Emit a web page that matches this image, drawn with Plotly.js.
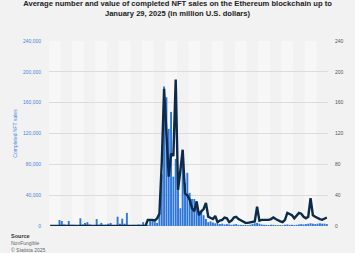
<!DOCTYPE html>
<html>
<head>
<meta charset="utf-8">
<script src="https://cdn.plot.ly/plotly-3.0.1.min.js"></script>
<style>
  html, body { margin: 0; padding: 0; background: #f2f2f2; }
  #chart { width: 355px; height: 253px; }
</style>
</head>
<body>
<div id="chart"></div>
<script>
// Monthly categories (axis labels are hidden at this size)
const firstYear = 2015, firstMonth = 1; // Feb 2015 (0-based month)
const monthNames = ['Jan','Feb','Mar','Apr','May','Jun','Jul','Aug','Sep','Oct','Nov','Dec'];
const months = [];
for (let i = 0; i < 120; i++) {
  const m = (firstMonth + i) % 12;
  const y = firstYear + Math.floor((firstMonth + i) / 12);
  months.push(monthNames[m] + " '" + String(y).slice(2));
}

// Average number of completed NFT sales
const sales = [
  0, 0, 0, 0, 7800, 6500, 2000, 1500, 6500, 1500,
  1500, 1000, 1000, 10000, 2000, 4000, 5000, 2000, 1000, 1000,
  9000, 1500, 4000, 1500, 1500, 3000, 4000, 1000, 1000, 12000,
  3000, 9500, 3000, 17000, 1000, 1000, 1500, 1000, 2000, 1500,
  5000, 1500, 1500, 8000, 7000, 5000, 4000, 17000, 67000, 181000,
  167000, 126000, 148000, 64000, 87000, 69000, 23000, 98000, 56000, 69000,
  43000, 35000, 35000, 30000, 19000, 18000, 14000, 9000, 5000, 6000,
  4500, 3500, 3000, 2500, 3000, 2000, 2500, 2000, 1500, 2000,
  2500, 1500, 1500, 1200, 1500, 1200, 1500, 2500, 3500, 4000,
  3000, 2000, 1500, 1500, 1200, 1500, 1500, 1200, 1000, 1200,
  1000, 1500, 2000, 1500, 1500, 1200, 1500, 2000, 2500, 2000,
  2500, 3000, 3500, 3000, 2500, 3000, 3500, 3000, 3000, 2500
];

// Average value of completed NFT sales (million U.S. dollars)
const valueUSD = [
  0, 0, 0, 0, 0, 0, 0, 0, 0, 0,
  0, 0, 0, 0, 0, 0, 0, 0, 0, 0,
  0, 0, 0, 0, 0, 0, 0, 0, 0, 0,
  0, 0, 0, 0, 0, 0, 0, 0, 0, 0,
  0, 0, 8, 8, 8, 7, 10, 16, 82, 178,
  120, 64, 94, 91, 190, 47, 72, 99, 42, 40,
  34, 23, 19, 32, 14, 19, 22, 30, 12, 10,
  9, 13, 5, 7, 8, 11, 10, 5, 7, 11,
  12, 9, 7, 5, 4, 4, 5, 5, 6, 25,
  7, 8, 8, 8, 8, 9, 11, 9, 7, 6,
  5, 8, 17, 16, 14, 10, 13, 17, 16, 12,
  10, 12, 36, 14, 12, 10, 9, 8, 10, 11
];

const leftTicks = [0, 40000, 80000, 120000, 160000, 200000, 240000];
const rightTicks = [0, 40, 80, 120, 160, 200, 240];

const W = 355, H = 253;
const M = { l: 49, r: 27, t: 41, b: 27 };
const px2x = px => (px - M.l) / (W - M.l - M.r);
const px2y = py => (H - M.b - py) / (H - M.t - M.b);

// alternating background bands, five months wide
const bandSize = 5;
const shapes = [];
for (let k = 0; k * bandSize < months.length; k += 2) {
  shapes.push({
    type: 'rect', xref: 'x', yref: 'paper', layer: 'below',
    x0: k * bandSize - 0.5, x1: Math.min((k + 1) * bandSize, months.length) - 0.5,
    y0: 0, y1: 1, fillcolor: '#f7f7f7', line: { width: 0 }
  });
}

const font = 'Liberation Sans, Arial, sans-serif';
const blue = '#2f76da';
const tickBlue = '#4a86dc';
const navy = '#0d2a48';

const data = [
  {
    type: 'bar', x: months, y: sales, yaxis: 'y', name: 'Completed NFT sales',
    marker: { color: blue, line: { width: 0 } }, hoverinfo: 'skip'
  },
  {
    type: 'scatter', mode: 'lines', x: months, y: valueUSD, yaxis: 'y2', name: 'Value',
    line: { color: navy, width: 2.4 }, hoverinfo: 'skip'
  }
];

const layout = {
  width: W, height: H,
  margin: M,
  paper_bgcolor: '#f2f2f2', plot_bgcolor: '#f2f2f2',
  showlegend: false,
  bargap: 0.18,
  font: { family: font, size: 5, color: '#555' },
  title: {
    text: '<b>Average number and value of completed NFT sales on the Ethereum blockchain up to<br>January 29, 2025 (in million U.S. dollars)</b>',
    font: { family: font, size: 7.6, color: '#222' },
    x: 0.5, xanchor: 'center', xref: 'container',
    y: 0.975, yanchor: 'top', yref: 'container'
  },
  xaxis: {
    type: 'category', range: [-0.5, months.length - 0.5],
    showticklabels: false, showgrid: false, zeroline: false, ticks: '', fixedrange: true
  },
  yaxis: {
    range: [0, 240000], tickvals: leftTicks, tickformat: ',d',
    tickfont: { family: font, size: 5, color: tickBlue },
    showgrid: true, gridcolor: '#dcdcdc', gridwidth: 1, zeroline: false,
    ticks: '', ticklabelstandoff: 7,
    title: { text: 'Completed NFT sales', font: { family: font, size: 5, color: tickBlue }, standoff: 5 }
  },
  yaxis2: {
    overlaying: 'y', side: 'right', range: [0, 240], tickvals: rightTicks,
    tickfont: { family: font, size: 5, color: '#555' },
    showgrid: false, zeroline: false, ticks: '', ticklabelstandoff: 6
  },
  shapes: shapes,
  annotations: [
    { text: '<b>Source</b>', x: px2x(9), y: px2y(236), xref: 'paper', yref: 'paper',
      xanchor: 'left', yanchor: 'middle', showarrow: false, font: { family: font, size: 5.5, color: '#333' } },
    { text: 'NonFungible', x: px2x(9), y: px2y(243), xref: 'paper', yref: 'paper',
      xanchor: 'left', yanchor: 'middle', showarrow: false, font: { family: font, size: 5, color: '#666' } },
    { text: '© Statista 2025', x: px2x(9), y: px2y(249.5), xref: 'paper', yref: 'paper',
      xanchor: 'left', yanchor: 'middle', showarrow: false, font: { family: font, size: 5, color: '#666' } }
  ]
};

Plotly.newPlot('chart', data, layout, { staticPlot: true, displayModeBar: false });
</script>
</body>
</html>
